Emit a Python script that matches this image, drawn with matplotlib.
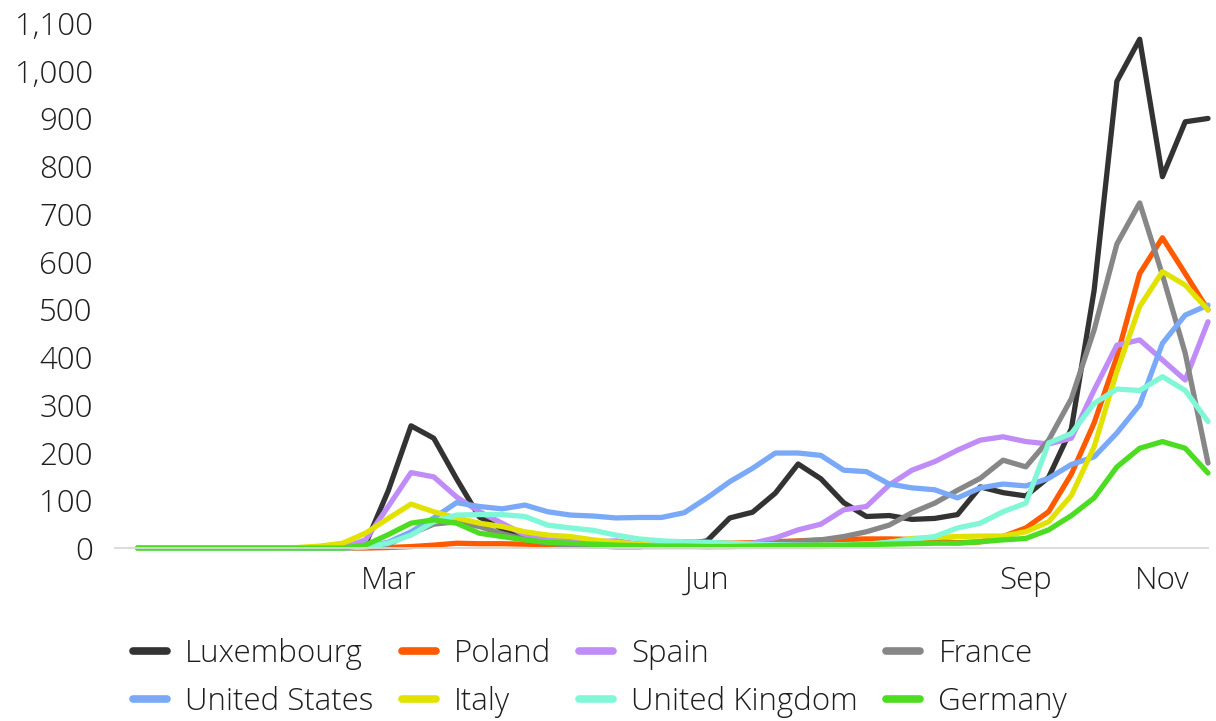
import matplotlib
matplotlib.use("Agg")
import matplotlib.pyplot as plt
from matplotlib.lines import Line2D

plt.rcParams["font.family"] = ["Open Sans", "DejaVu Sans"]
plt.rcParams["font.weight"] = "light"

# weekly values, 48 weeks
luxembourg = [0, 0, 0, 0, 0, 0, 0, 0, 0, 0, 8, 120, 256, 230, 145, 65, 40, 22, 13, 6,
              4, 3, 3, 5, 8, 15, 63, 75, 115, 176, 145, 95, 66, 68, 60, 62, 70, 128, 116, 109,
              148, 250, 540, 978, 1066, 778, 893, 900]
poland = [0, 0, 0, 0, 0, 0, 0, 0, 0, 0, 0, 1, 3, 6, 10, 9, 9, 8, 7, 6,
          6, 7, 10, 12, 13, 12, 10, 11, 13, 15, 17, 18, 19, 19, 18, 15, 11, 13, 24, 42,
          76, 155, 262, 401, 575, 650, 575, 499]
spain = [0, 0, 0, 0, 0, 0, 0, 0, 0, 0, 17, 87, 158, 149, 107, 76, 52, 27, 17, 17,
         13, 15, 8, 8, 8, 7, 6, 10, 21, 38, 50, 80, 87, 132, 163, 181, 205, 226, 233, 223,
         218, 230, 331, 425, 436, 394, 352, 474]
france = [0, 0, 0, 0, 0, 0, 0, 0, 0, 0, 1, 8, 30, 50, 55, 45, 30, 18, 10, 6,
          4, 3, 3, 3, 3, 3, 4, 6, 10, 14, 17, 24, 34, 48, 74, 94, 121, 146, 184, 170,
          226, 313, 457, 637, 723, 572, 408, 178]
united_states = [0, 0, 0, 0, 0, 0, 0, 0, 0, 0, 3, 12, 34, 63, 95, 87, 82, 90, 76, 69,
                 67, 63, 64, 64, 74, 105, 139, 167, 199, 199, 194, 163, 160, 134, 126, 122, 105, 126, 134, 130,
                 146, 175, 191, 241, 300, 429, 488, 509]
italy = [0, 0, 0, 0, 0, 0, 0, 1, 4, 10, 31, 62, 92, 76, 63, 52, 45, 34, 27, 24,
         17, 12, 8, 5, 4, 3, 3, 3, 3, 3, 3, 5, 6, 12, 20, 22, 24, 25, 25, 34,
         55, 110, 212, 370, 506, 579, 551, 499]
united_kingdom = [0, 0, 0, 0, 0, 0, 0, 0, 0, 0, 2, 10, 27, 55, 69, 70, 70, 66, 48, 42,
                  37, 27, 19, 15, 13, 12, 10, 8, 7, 6, 6, 6, 8, 12, 18, 24, 42, 52, 76, 94,
                  220, 240, 303, 333, 330, 359, 330, 265]
germany = [0, 0, 0, 0, 0, 0, 0, 0, 0, 0, 6, 28, 52, 59, 52, 31, 24, 17, 12, 10,
           8, 6, 5, 4, 4, 3, 3, 4, 5, 5, 6, 6, 7, 8, 9, 10, 10, 13, 17, 20,
           38, 68, 105, 170, 209, 223, 209, 157]

month_ticks = [11, 25, 39, 45]
month_labels = ["Mar", "Jun", "Sep", "Nov"]

series = [
    ("Luxembourg", luxembourg, "#333333"),
    ("Poland", poland, "#ff5a00"),
    ("Spain", spain, "#c08cf8"),
    ("France", france, "#878787"),
    ("United States", united_states, "#7aa9f7"),
    ("Italy", italy, "#e2e200"),
    ("United Kingdom", united_kingdom, "#80f7d6"),
    ("Germany", germany, "#4cdd22"),
]

TEXT_COLOR = "#1e1e1e"
FONT_SIZE = 22.5

fig = plt.figure(figsize=(12.16, 7.21), dpi=100)
ax = fig.add_axes([115 / 1216, 1 - 548 / 721, (1208 - 115) / 1216, 525 / 721])

weeks = list(range(len(luxembourg)))
handles = {}
for name, values, color in series:
    ax.plot(weeks, values, color=color, lw=3.8, solid_joinstyle="round",
            solid_capstyle="round", clip_on=False)
    handles[name] = Line2D([], [], color=color, lw=5.5, solid_capstyle="round")

ax.set_xlim(-1, 47)
ax.set_ylim(0, 1100)
ax.set_yticks(range(0, 1101, 100))
ax.set_yticklabels([f"{v:,}" for v in range(0, 1101, 100)])
ax.set_xticks(month_ticks)
ax.set_xticklabels(month_labels)

for side in ["top", "right", "left"]:
    ax.spines[side].set_visible(False)
ax.spines["bottom"].set_color("#d9d9d9")
ax.spines["bottom"].set_linewidth(1.3)
ax.tick_params(axis="both", length=0, labelsize=FONT_SIZE, labelcolor=TEXT_COLOR)
ax.tick_params(axis="y", pad=16)
ax.tick_params(axis="x", pad=12)

# legend is column-major, so interleave the two rows
order = ["Luxembourg", "United States", "Poland", "Italy", "Spain", "United Kingdom", "France", "Germany"]
fig.legend(
    [handles[n] for n in order], order,
    ncol=4, loc="upper left", bbox_to_anchor=(133 / 1216, 1 - 638 / 721),
    frameon=False, fontsize=FONT_SIZE, labelcolor=TEXT_COLOR,
    handlelength=1.09, handletextpad=0.58, columnspacing=0.9,
    borderpad=0, borderaxespad=0, labelspacing=0.5,
)

fig.savefig("out.png", dpi=100, facecolor="white")
